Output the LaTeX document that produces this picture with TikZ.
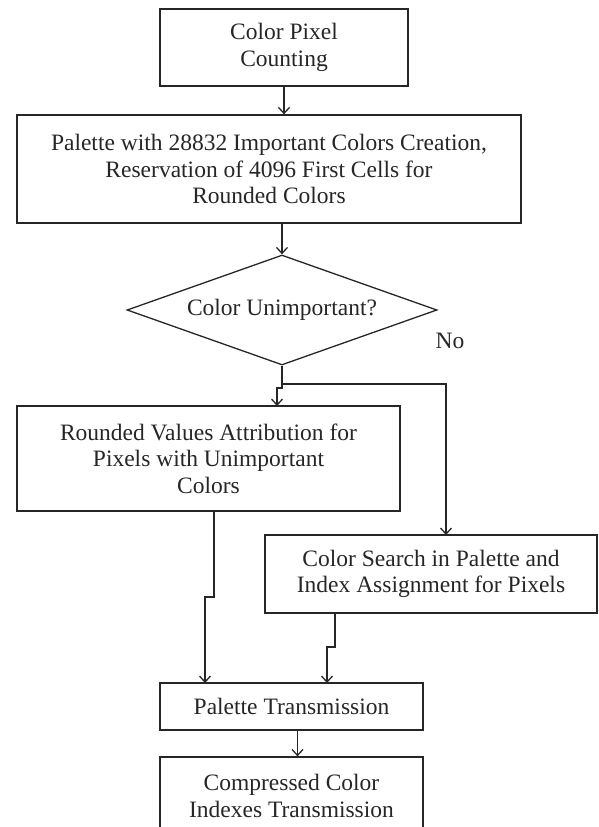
\documentclass[tikz,border=0pt]{standalone}
\usepackage{fontspec}
\setmainfont{Liberation Serif}
\usetikzlibrary{shapes.geometric,arrows.meta}

\begin{document}
\begin{tikzpicture}[x=1pt, y=-1pt,
			color=black!85,
			line width=1.3pt,
			>={Straight Barb[length=6pt,width=11pt]},
			block/.style={
				draw,
				rectangle,
				align=center,
				inner sep=0pt,
				font=\fontsize{23.5}{26.5}\selectfont},
			decision/.style={
				draw,
				diamond,
				aspect=2.8,
				inner sep=0pt,
				font=\fontsize{23.5}{26.5}\selectfont}]
			\useasboundingbox (0, 0) rectangle (598, 827);
			\node (count) at (284, 47.5) [block, minimum width=248pt, minimum height=77pt] {Color Pixel\\Counting};
			\node (palette) at (269, 169) [block, minimum width=504pt, minimum height=108pt] {Palette with 28832 Important Colors Creation,\\Reservation of 4096 First Cells for\\Rounded Colors};
			\node (unimp) at (282, 310) [decision, minimum width=310pt, minimum height=110pt] {Color Unimportant?};
			\node (no) at (450, 341) [font=\fontsize{23.5}{26.5}\selectfont] {No};
			\node (rounded) at (208.5, 458.5) [block, minimum width=383pt, minimum height=105pt] {Rounded Values Attribution for\\Pixels with Unimportant\\Colors};
			\node (search) at (431, 574) [block, minimum width=332pt, minimum height=78pt] {Color Search in Palette and\\Index Assignment for Pixels};
			\node (transm) at (291.5, 706.5) [block, minimum width=263pt, minimum height=47pt] {Palette Transmission};
			\node (indexes) at (291.5, 796) [block, minimum width=263pt, minimum height=78pt] {Compressed Color\\Indexes Transmission};
			\coordinate (split) at (282, 384);
			\coordinate (in3) at (277, 406);
			\coordinate (in4) at (446, 535);
			\coordinate (out3) at (214, 511);
			\coordinate (out4) at (335, 613);
			\coordinate (in5a) at (205, 683);
			\coordinate (in5b) at (327, 683);
			\draw[->] (count.south) -- (count.south |- palette.north);
			\draw[->] (palette.south -| unimp.north) -- (unimp.north);
			\draw (unimp.south) -- (split);
			\draw[->] (split) -- ++(0, 4) -| (in3);
			\draw[->] (split) -| (in4);
			\draw[->] (out3) -- ++(0, 86) -| (in5a);
			\draw[->] (out4) -- ++(0, 34) -| (in5b);
			\draw[->] ([xshift=6pt]transm.south) -- ([xshift=6pt]indexes.north);
\end{tikzpicture}
\end{document}
